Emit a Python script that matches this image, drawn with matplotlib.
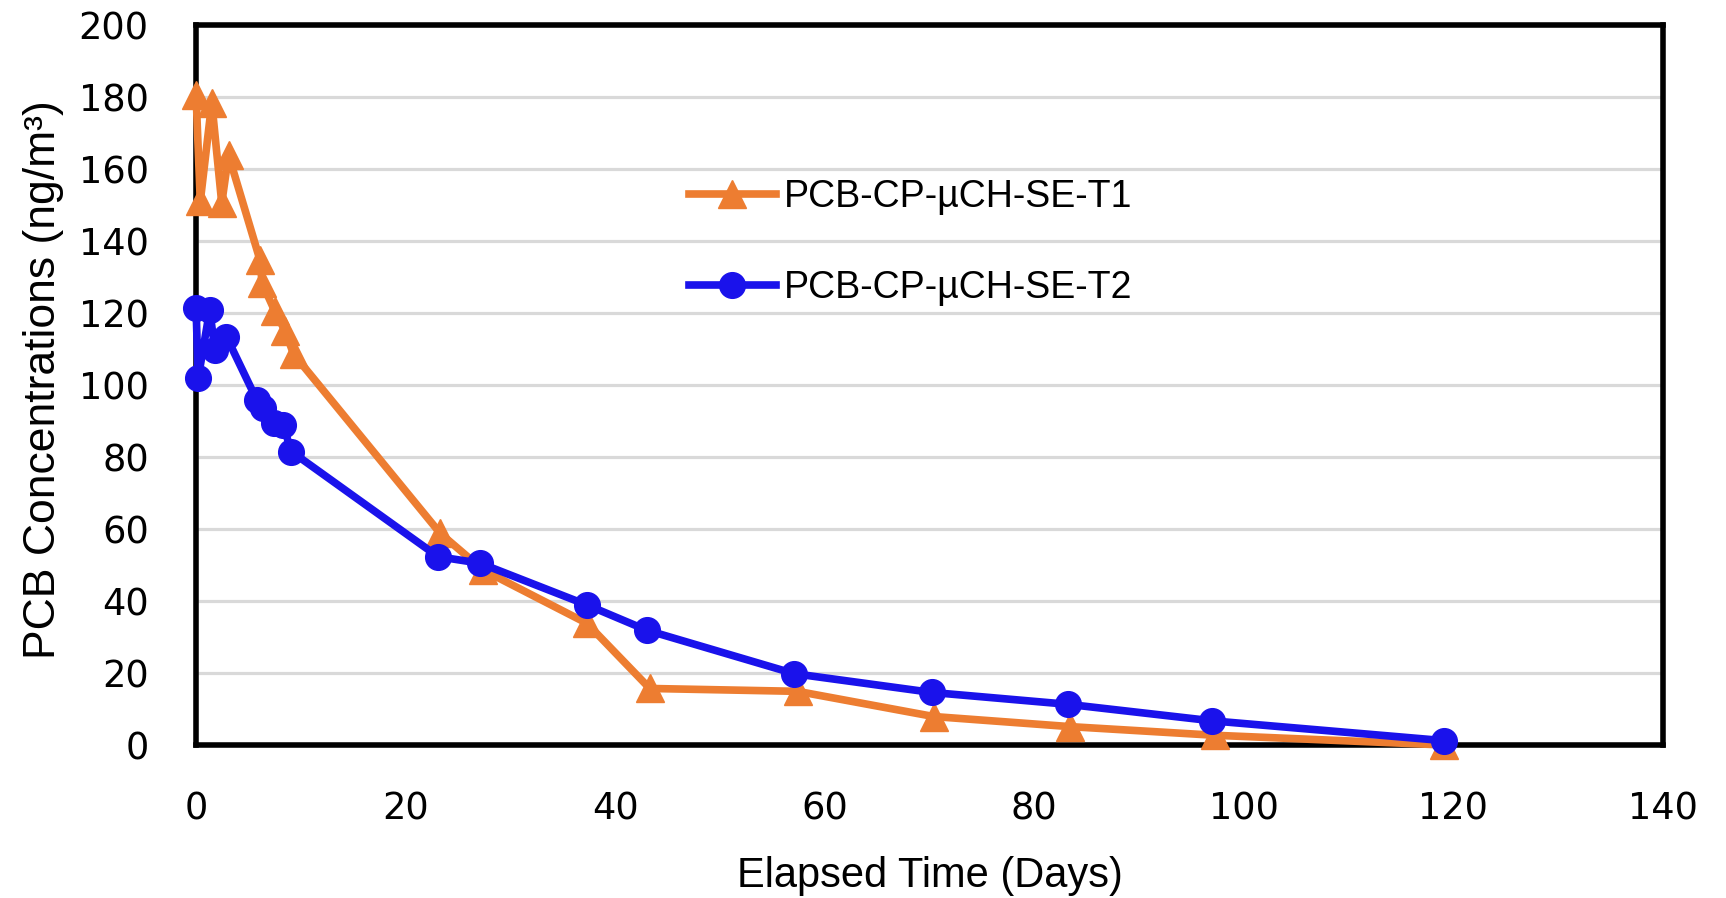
import matplotlib
matplotlib.use("Agg")
import matplotlib.pyplot as plt

plt.rcParams['font.family'] = ['Liberation Sans', 'DejaVu Sans']

# elapsed time (days) and PCB concentrations (ng/m3)
days_t1 = [0, 0.4, 1.5, 2.45, 3.1, 6.1, 6.3, 7.5, 8.5, 9.3,
           23.3, 27.4, 37.3, 43.3, 57.4, 70.4, 83.4, 97.2, 119.1]
conc_t1 = [180.5, 151, 178.4, 150.5, 163.9, 134.7, 128.3, 120.6, 115, 108.6,
           58.8, 48.6, 33.8, 15.7, 14.9, 7.9, 5.1, 2.7, 0]

days_t2 = [0, 0.2, 1.3, 1.8, 2.9, 5.8, 6.4, 7.4, 8.3, 9.1,
           23.1, 27.1, 37.3, 43.0, 57.1, 70.2, 83.2, 97.0, 119.1]
conc_t2 = [121.3, 101.9, 120.8, 109.7, 113.4, 95.8, 93.5, 89.3, 88.9, 81.5,
           52.3, 50.5, 38.9, 31.9, 19.8, 14.6, 11.3, 6.7, 1.2]

label_t1 = "PCB-CP-µCH-SE-T1"
label_t2 = "PCB-CP-µCH-SE-T2"

orange = '#ed7d31'
blue = '#1a12eb'

fig = plt.figure(figsize=(17.26, 8.98), dpi=100)
ax = fig.add_axes([0.1136, 0.1704, 0.8499, 0.8018])

ax.plot(days_t1, conc_t1, color=orange, lw=5.5, marker='^', ms=19.5,
        label=label_t1, clip_on=False, zorder=3)
ax.plot(days_t2, conc_t2, color=blue, lw=5.5, marker='o', ms=18.5,
        label=label_t2, clip_on=False, zorder=4)

ax.set_xlim(0, 140)
ax.set_ylim(0, 200)
ax.set_xticks(range(0, 141, 20))
ax.set_yticks(range(0, 201, 20))
ax.yaxis.grid(True, color='#d9d9d9', lw=2.3)
ax.set_axisbelow(True)

for s in ax.spines.values():
    s.set_linewidth(4)
    s.set_color('black')

# tick numbers are in a wider, Verdana-like face
ax.tick_params(axis='both', length=0, labelsize=26.5)
ax.tick_params(axis='y', pad=34)
ax.tick_params(axis='x', pad=33)
for lab in ax.get_xticklabels() + ax.get_yticklabels():
    lab.set_family('DejaVu Sans')

ax.set_xlabel("Elapsed Time (Days)", fontsize=30, va='center')
ax.xaxis.set_label_coords(0.5, -0.182)
ax.set_ylabel("PCB Concentrations (ng/m³)", fontsize=32, va='center')
ax.yaxis.set_label_coords(-0.104, 0.507)

ax.legend(loc='center left', bbox_to_anchor=(0.336, 0.698), frameon=False,
          fontsize=27, borderpad=0, borderaxespad=0, handlelength=2.32,
          handletextpad=0.2, labelspacing=1.46, numpoints=1)

fig.savefig("out.png", dpi=100)
